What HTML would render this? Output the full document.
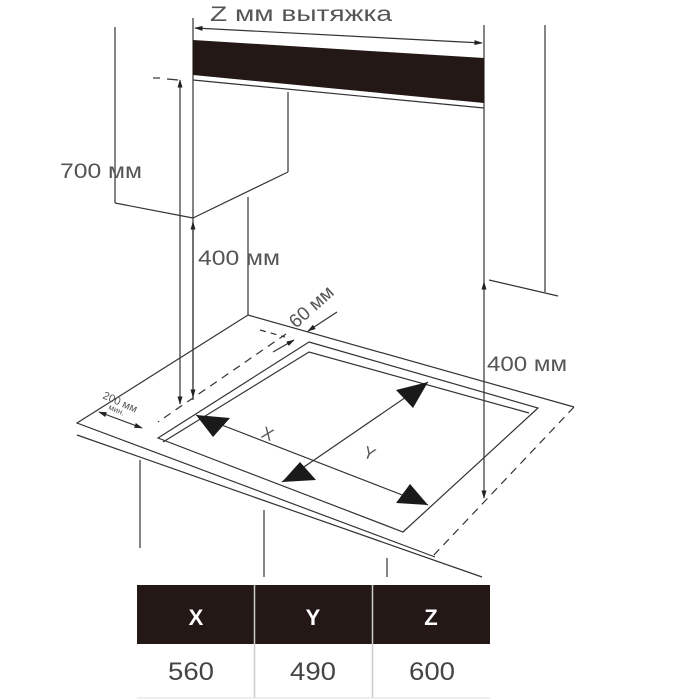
<!DOCTYPE html>
<html><head><meta charset="utf-8"><style>
html,body{margin:0;padding:0;background:#fff;}
svg{display:block;}
text{font-family:"Liberation Sans",sans-serif;}
</style></head><body>
<svg width="700" height="700" viewBox="0 0 700 700" xmlns="http://www.w3.org/2000/svg">
<defs>
<marker id="a" viewBox="0 0 10 10" refX="9" refY="5" markerWidth="7" markerHeight="7" orient="auto-start-reverse"><path d="M0,2 L10,5 L0,8 z" fill="#222"/></marker>
</defs>
<g stroke="#333" stroke-width="1.2" fill="none">
<line x1="193" y1="18" x2="193" y2="400"/>
<line x1="484" y1="25" x2="484" y2="282"/>
<line x1="545" y1="25" x2="545" y2="292"/>
<line x1="489" y1="280" x2="558" y2="296"/>
<line x1="115" y1="27" x2="115" y2="203"/>
<line x1="115" y1="203" x2="193" y2="218"/>
<line x1="288" y1="92" x2="288" y2="172"/>
<line x1="288" y1="172" x2="193" y2="218"/>
<line x1="248" y1="197" x2="248" y2="315"/>
<line x1="153" y1="78" x2="160" y2="78" />
<line x1="167" y1="79" x2="178" y2="80"/>
<line x1="195" y1="28" x2="482" y2="43" marker-start="url(#a)" marker-end="url(#a)"/>
<line x1="193" y1="80" x2="484" y2="108"/>
<line x1="180" y1="80" x2="180" y2="404" marker-start="url(#a)" marker-end="url(#a)"/>
<line x1="193" y1="222" x2="193" y2="397" marker-start="url(#a)" marker-end="url(#a)"/>
<line x1="484" y1="282" x2="484" y2="498" marker-start="url(#a)" marker-end="url(#a)"/>
<polyline points="574,407 248,315 77,423 435,557"/>
<line x1="574" y1="407" x2="432" y2="557" stroke-dasharray="8,6"/>
<line x1="77" y1="435" x2="482" y2="577"/>
<line x1="140" y1="460" x2="140" y2="548"/>
<line x1="264" y1="510" x2="264" y2="577"/>
<line x1="387" y1="558" x2="387" y2="577"/>
<polygon points="309,342 538,408 403,532 158,438"/>
<polyline points="163,442 309,352 529,413"/>
<line x1="286" y1="334" x2="158" y2="422" stroke-dasharray="8,6"/>
<line x1="260" y1="330" x2="285" y2="337" stroke-dasharray="6,5"/>
<line x1="337" y1="312" x2="308" y2="331" marker-end="url(#a)"/>
<line x1="273" y1="352" x2="294" y2="340" marker-end="url(#a)"/>
<line x1="99" y1="412" x2="142" y2="428" marker-start="url(#a)" marker-end="url(#a)"/>
<line x1="196" y1="415" x2="428" y2="505"/>
<line x1="428" y1="382" x2="282" y2="482"/>
</g>
<polygon points="193,40 484,58 484,103 193,75" fill="#231815"/>
<g fill="#1a1a1a">
<polygon points="196,415 230,418 213,437"/>
<polygon points="428,505 396,503 410,484"/>
<polygon points="428,382 396,390 413,408"/>
<polygon points="282,482 316,480 300,462"/>
</g>
<g fill="#555" font-size="21">
<text x="210" y="21" textLength="182" lengthAdjust="spacingAndGlyphs">Z мм вытяжка</text>
<text x="60" y="178" textLength="82" lengthAdjust="spacingAndGlyphs">700 мм</text>
<text x="198" y="265" textLength="82" lengthAdjust="spacingAndGlyphs">400 мм</text>
<text x="487" y="371" textLength="80" lengthAdjust="spacingAndGlyphs">400 мм</text>
<text x="263" y="441" font-size="17" transform="rotate(22 272 432)">X</text>
<text x="364" y="460" font-size="17" transform="rotate(22 372 453)">Y</text>
<text x="0" y="0" font-size="19" transform="translate(296 329) rotate(-42)">60 мм</text>
<text x="0" y="0" font-size="11" transform="translate(102 398) rotate(24)">200 мм</text>
<text x="0" y="0" font-size="8" transform="translate(108 409) rotate(24)">мин.</text>
</g>
<rect x="137" y="585" width="353" height="59" fill="#231815"/>
<line x1="254.5" y1="585" x2="254.5" y2="698" stroke="#ccc" stroke-width="1.5"/>
<line x1="372.5" y1="585" x2="372.5" y2="698" stroke="#ccc" stroke-width="1.5"/>
<line x1="137" y1="698" x2="490" y2="698" stroke="#ddd"/>
<g fill="#fff" font-weight="bold" font-size="22" text-anchor="middle">
<text x="196" y="625">X</text><text x="313" y="625">Y</text><text x="431" y="625">Z</text>
</g>
<g fill="#444" font-size="25" text-anchor="middle">
<text x="191" y="680" textLength="46" lengthAdjust="spacingAndGlyphs">560</text><text x="313" y="680" textLength="46" lengthAdjust="spacingAndGlyphs">490</text><text x="432" y="680" textLength="46" lengthAdjust="spacingAndGlyphs">600</text>
</g>
</svg>
</body></html>
